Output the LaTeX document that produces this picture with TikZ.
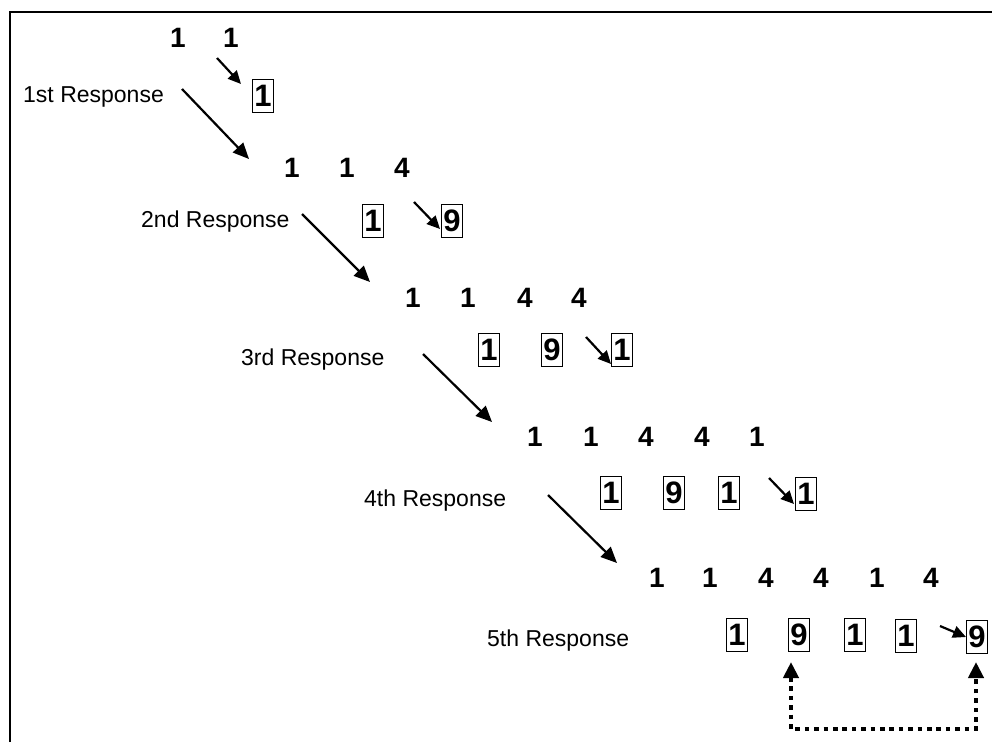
\documentclass[tikz,border=0pt]{standalone}
\usepackage{fontspec}
\setmainfont{Liberation Sans}
\usetikzlibrary{arrows.meta}
\tikzset{
  lbl/.style={anchor=base west,inner sep=0pt,font=\fontsize{23}{27}\selectfont},
  dig/.style={inner sep=0pt,font=\bfseries\fontsize{28}{32}\selectfont},
  bx/.style={draw,line width=1.3pt,inner sep=0pt,minimum width=21pt,minimum height=33pt},
  longarr/.style={line width=2.2pt,-{Triangle[length=16pt,width=14pt]}},
  shortarr/.style={line width=2.2pt,-{Triangle[length=13pt,width=12pt]}},
  dotpath/.style={line width=4.6pt,dash pattern=on 4.6pt off 4.8pt,{Triangle[length=16pt,width=15pt]}-{Triangle[length=16pt,width=15pt]}}
}
\newcommand{\bd}[1]{{\bfseries\fontsize{31}{34}\selectfont #1}}
\begin{document}
\begin{tikzpicture}[x=1pt,y=-1pt]
\useasboundingbox (0,0) rectangle (992,742);
\draw[line width=2.4pt] (10,742) -- (10,12) -- (992,12);
% row 1
\node[dig] (r1a) at (178,38) {1};
\node[dig] (r1b) at (231,38) {1};
\node[bx] (b1a) at (263,96) {\bd{1}};
\node[lbl] (l1) at (23,102) {1st Response};
% row 2
\node[dig] (r2a) at (292,168) {1};
\node[dig] (r2b) at (347,168) {1};
\node[dig] (r2c) at (402,168) {4};
\node[bx] (b2a) at (373,221) {\bd{1}};
\node[bx] (b2b) at (452,221) {\bd{9}};
\node[lbl] (l2) at (141,227) {2nd Response};
% row 3
\node[dig] (r3a) at (413,298) {1};
\node[dig] (r3b) at (468,298) {1};
\node[dig] (r3c) at (525,298) {4};
\node[dig] (r3d) at (579,298) {4};
\node[bx] (b3a) at (489,350) {\bd{1}};
\node[bx] (b3b) at (552,350) {\bd{9}};
\node[bx] (b3c) at (622,350) {\bd{1}};
\node[lbl] (l3) at (241,365) {3rd Response};
% row 4
\node[dig] (r4a) at (535,437) {1};
\node[dig] (r4b) at (591,437) {1};
\node[dig] (r4c) at (646,437) {4};
\node[dig] (r4d) at (702,437) {4};
\node[dig] (r4e) at (757,437) {1};
\node[bx] (b4a) at (611,493) {\bd{1}};
\node[bx] (b4b) at (674,493) {\bd{9}};
\node[bx] (b4c) at (729,493) {\bd{1}};
\node[bx] (b4d) at (806,494) {\bd{1}};
\node[lbl] (l4) at (364,506) {4th Response};
% row 5
\node[dig] (r5a) at (657,578) {1};
\node[dig] (r5b) at (710,578) {1};
\node[dig] (r5c) at (766,578) {4};
\node[dig] (r5d) at (821,578) {4};
\node[dig] (r5e) at (877,578) {1};
\node[dig] (r5f) at (931,578) {4};
\node[bx] (b5a) at (737,635) {\bd{1}};
\node[bx] (b5b) at (799,635) {\bd{9}};
\node[bx] (b5c) at (855,635) {\bd{1}};
\node[bx] (b5d) at (906,636) {\bd{1}};
\node[bx] (b5e) at (977,637) {\bd{9}};
\node[lbl] (l5) at (487,646) {5th Response};
% long arrows
\coordinate (a1s) at (182,89);  \coordinate (a1e) at (249,159);
\coordinate (a2s) at (302,214); \coordinate (a2e) at (370,282);
\coordinate (a3s) at (423,354); \coordinate (a3e) at (492,422);
\coordinate (a4s) at (548,495); \coordinate (a4e) at (617,563);
\draw[longarr] (a1s) -- (a1e);
\draw[longarr] (a2s) -- (a2e);
\draw[longarr] (a3s) -- (a3e);
\draw[longarr] (a4s) -- (a4e);
% short arrows
\coordinate (s1s) at (217,58);  \coordinate (s1e) at (241,84);
\coordinate (s2s) at (414,202); \coordinate (s2e) at (440,229);
\coordinate (s3s) at (586,337); \coordinate (s3e) at (611,364);
\coordinate (s4s) at (769,478); \coordinate (s4e) at (794,504);
\coordinate (s5s) at (940,626); \coordinate (s5e) at (966,637);
\draw[shortarr] (s1s) -- (s1e);
\draw[shortarr] (s2s) -- (s2e);
\draw[shortarr] (s3s) -- (s3e);
\draw[shortarr] (s4s) -- (s4e);
\draw[shortarr] (s5s) -- (s5e);
% dotted connector
\coordinate (d1) at (791,662);
\coordinate (d2) at (976,662);
\draw[dotpath] (d1) -- ++(0,67) -| (d2);
\end{tikzpicture}
\end{document}
